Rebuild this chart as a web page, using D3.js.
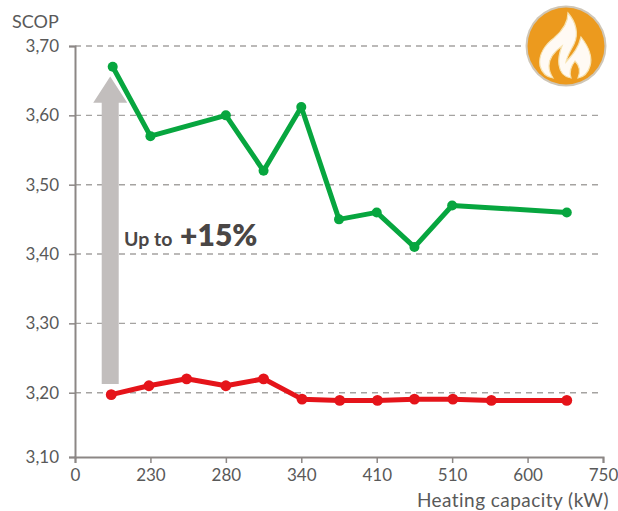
<!DOCTYPE html>
<html><head><meta charset="utf-8">
<script src="https://cdn.jsdelivr.net/npm/d3@7/dist/d3.min.js"></script>
<style>
html,body{margin:0;padding:0;background:#fff}
svg{display:block}
text{font-family:Lato,"Open Sans",sans-serif;fill:#595959}
</style></head><body>
<script>
const yTicks = [3.1, 3.2, 3.3, 3.4, 3.5, 3.6, 3.7];
const xTickLabels = ["0", "230", "280", "340", "410", "510", "600", "750"];
// Horizontal position is expressed in axis steps, since the axis labels are unevenly spaced in kW.
const greenSteps = [0.5, 1, 2, 2.5, 3, 3.5, 4, 4.5, 5, 6.52];
const greenScop = [3.67, 3.57, 3.60, 3.52, 3.612, 3.45, 3.46, 3.41, 3.47, 3.46];
const redSteps = [0.48, 0.98, 1.48, 2, 2.5, 3.01, 3.51, 4.01, 4.5, 5.01, 5.52, 6.52];
const redScop = [3.197, 3.21, 3.22, 3.21, 3.22, 3.19, 3.188, 3.188, 3.19, 3.19, 3.188, 3.188];

const width = 618, height = 511;
const svg = d3.select("body").append("svg").attr("width", width).attr("height", height);
const x = d3.scaleLinear().domain([0, xTickLabels.length - 1]).range([75, 603]);
// The bottom interval of the value axis is drawn slightly shorter than the others.
const y = d3.scaleLinear().domain([3.1, 3.2, 3.7]).range([457, 392.7, 46]);

// Dashed gridlines
svg.append("g").selectAll("line").data(yTicks.slice(1)).join("line")
  .attr("x1", x(0)).attr("x2", x(7)).attr("y1", d => y(d)).attr("y2", d => y(d))
  .attr("stroke", "#a5a3a1").attr("stroke-width", 1.4).attr("stroke-dasharray", "6 5");

// Axes
const axisColor = "#8c8785";
const yAxis = svg.append("g").attr("transform", `translate(${x(0)},0)`)
  .call(d3.axisLeft(y).tickValues(yTicks).tickSize(6).tickPadding(10)
    .tickFormat(d => d3.format(".2f")(d).replace(".", ",")));
const xAxis = svg.append("g").attr("transform", `translate(0,${y(3.1)})`)
  .call(d3.axisBottom(x).tickValues(d3.range(xTickLabels.length)).tickSize(6).tickPadding(6)
    .tickFormat(i => xTickLabels[i]));
[yAxis, xAxis].forEach(a => {
  a.select(".domain").attr("stroke", axisColor).attr("stroke-width", 2);
  a.selectAll(".tick line").attr("stroke", axisColor).attr("stroke-width", 1.5);
  a.selectAll("text").style("font-size", "17px").style("fill", "#595959").style("font-family", "Lato,sans-serif");
});

// Improvement arrow, from the red level up to the green peak
const arrowX = x(0.5) - 2.5;
svg.append("path")
  .attr("d", d3.line()([
    [arrowX - 8.5, y(3.2125)], [arrowX - 8.5, y(3.618)], [arrowX - 17, y(3.618)],
    [arrowX, y(3.656)], [arrowX + 17, y(3.618)], [arrowX + 8.5, y(3.618)], [arrowX + 8.5, y(3.2125)]
  ]) + "Z")
  .attr("fill", "#c2bebd");

// Series
const drawSeries = (steps, values, color, width, r) => {
  const pts = steps.map((s, i) => [x(s), y(values[i])]);
  svg.append("path").attr("d", d3.line()(pts)).attr("fill", "none")
    .attr("stroke", color).attr("stroke-width", width).attr("stroke-linejoin", "round");
  svg.append("g").selectAll("circle").data(pts).join("circle")
    .attr("cx", d => d[0]).attr("cy", d => d[1]).attr("r", r).attr("fill", color);
};
drawSeries(greenSteps, greenScop, "#07a63f", 5, 5);
drawSeries(redSteps, redScop, "#e5141a", 5, 5.4);

// Annotation and axis titles
const note = svg.append("text").attr("x", 124).attr("y", 246).attr("font-weight", 700).style("fill", "#4a4645");
note.append("tspan").attr("font-size", 19.5).text("Up to ");
note.append("tspan").attr("font-size", 30).attr("font-weight", 800).attr("dx", 3).text("+15%");
svg.append("text").attr("x", 12).attr("y", 28).attr("font-size", 18).text("SCOP");
svg.append("text").attr("x", 609).attr("y", 507).attr("text-anchor", "end").attr("font-size", 19).attr("letter-spacing", 0.45).text("Heating capacity (kW)");

// Flame badge
const badge = svg.append("g").attr("transform", "translate(566,46)");
const glow = svg.append("defs").append("filter").attr("id", "soft");
glow.append("feGaussianBlur").attr("stdDeviation", 0.6);
badge.append("circle").attr("r", 40.5).attr("fill", "#cfc6b6");
badge.append("circle").attr("r", 38.5).attr("fill", "#ec9a1e");
badge.append("path").attr("filter", "url(#soft)").attr("fill", "#fffaf4").attr("stroke", "#f6e2b0").attr("stroke-width", 1.2)
  .attr("d", "M-26,20 C-28,8 -20,-2 -12,-8 C-5,-14 2,-22 2,-33 C10,-24 13,-12 8,-2 C5,4 1,10 0,16 C5,10 12,4 15,-9 C22,0 27,10 24,20 C22,27 17,31 12,32 C15,25 13,19 9,15 C5,20 3,26 5,32 C-2,31 -6,26 -7,19 C-8,12 -6,5 -4,0 C-11,5 -17,11 -17,20 C-17,25 -15,29 -13,32 C-19,31 -24,27 -26,20 Z");
</script>
</body></html>
